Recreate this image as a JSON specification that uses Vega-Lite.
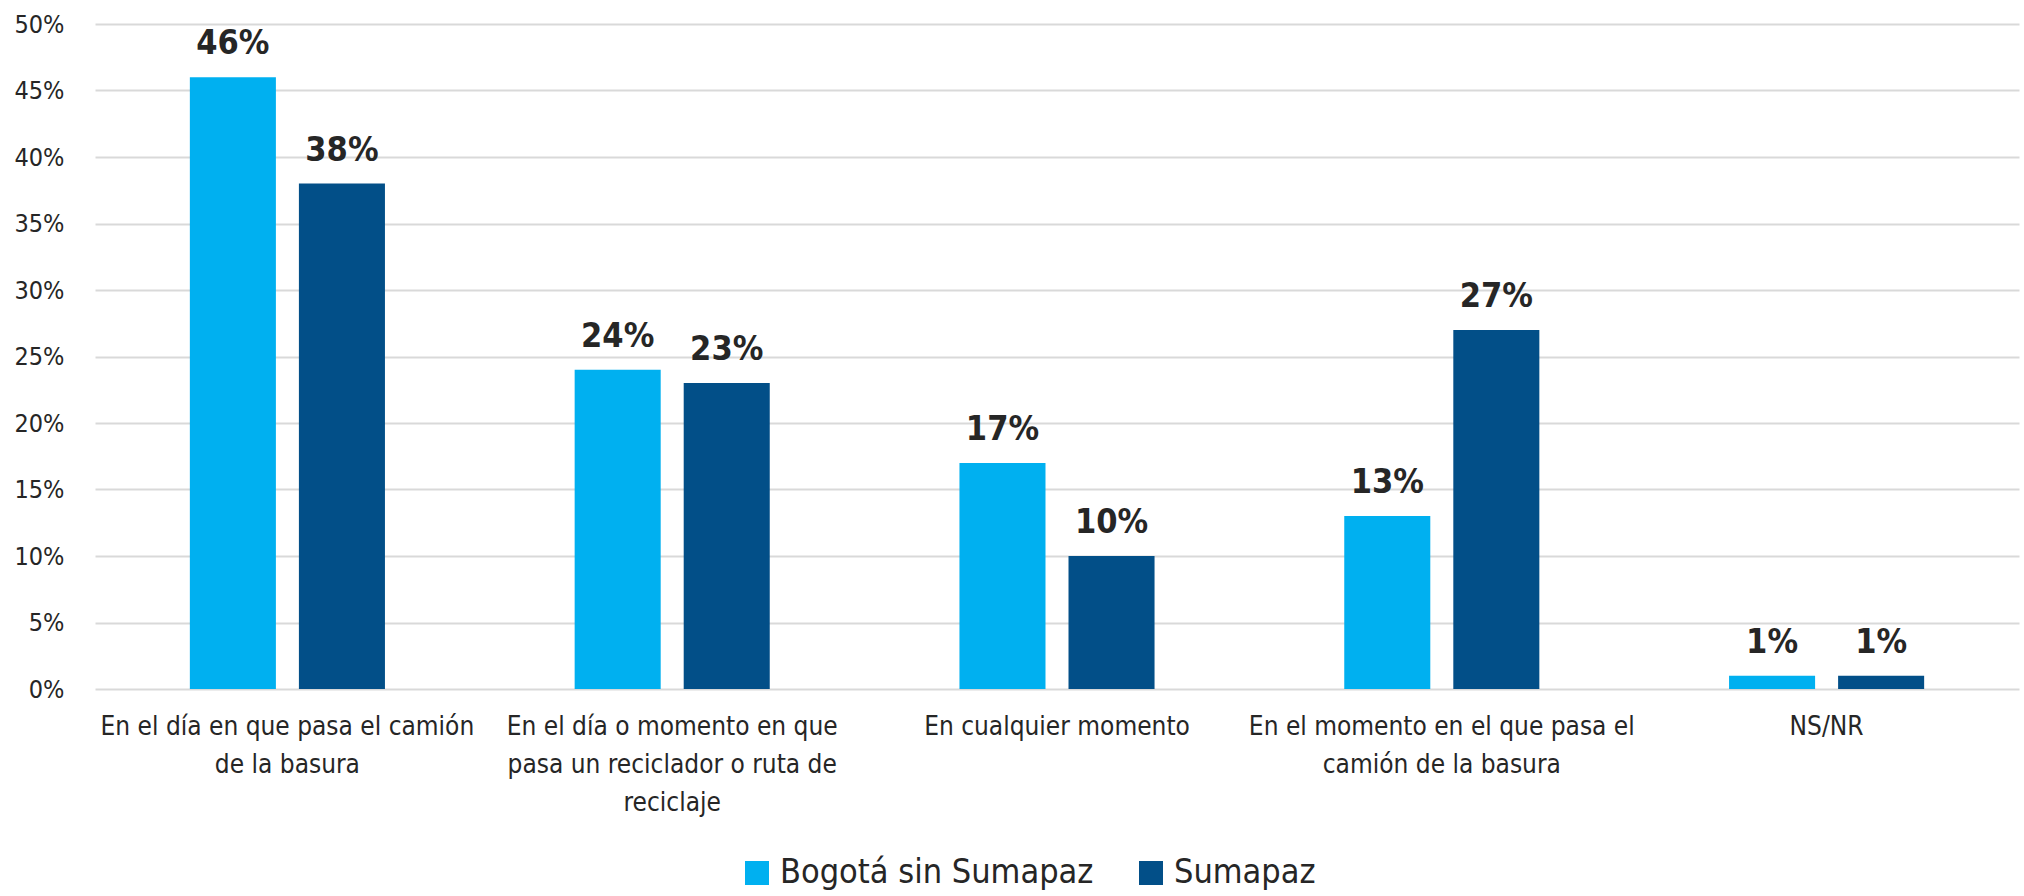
{
  "$schema": "https://vega.github.io/schema/vega-lite/v6.json",
  "width": 1924,
  "height": 665,
  "autosize": {"type": "none"},
  "padding": {"left": 95, "top": 24, "right": 5, "bottom": 207},
  "background": "#ffffff",
  "config": {
    "view": {"stroke": null},
    "font": "DejaVu Sans Condensed"
  },
  "data": {
    "values": [
      {"cat": "En el día en que pasa el camión|de la basura", "serie": "Bogotá sin Sumapaz", "v": 0.46},
      {"cat": "En el día en que pasa el camión|de la basura", "serie": "Sumapaz", "v": 0.38},
      {"cat": "En el día o momento en que|pasa un reciclador o ruta de|reciclaje", "serie": "Bogotá sin Sumapaz", "v": 0.24},
      {"cat": "En el día o momento en que|pasa un reciclador o ruta de|reciclaje", "serie": "Sumapaz", "v": 0.23},
      {"cat": "En cualquier momento", "serie": "Bogotá sin Sumapaz", "v": 0.17},
      {"cat": "En cualquier momento", "serie": "Sumapaz", "v": 0.10},
      {"cat": "En el momento en el que pasa el|camión de la basura", "serie": "Bogotá sin Sumapaz", "v": 0.13},
      {"cat": "En el momento en el que pasa el|camión de la basura", "serie": "Sumapaz", "v": 0.27},
      {"cat": "NS/NR", "serie": "Bogotá sin Sumapaz", "v": 0.01},
      {"cat": "NS/NR", "serie": "Sumapaz", "v": 0.01}
    ]
  },
  "encoding": {
    "x": {
      "field": "cat",
      "type": "nominal",
      "sort": null,
      "scale": {"paddingInner": 0.493, "paddingOuter": 0.2465},
      "axis": {
        "title": null,
        "labelAngle": 0,
        "domain": false,
        "ticks": false,
        "labelExpr": "split(datum.label, '|')",
        "labelFont": "DejaVu Sans Condensed",
        "labelFontSize": 26,
        "labelColor": "#262626",
        "labelLineHeight": 38,
        "labelPadding": 24,
        "labelLimit": 600,
        "labelBaseline": "top"
      }
    },
    "xOffset": {
      "field": "serie",
      "type": "nominal",
      "sort": ["Bogotá sin Sumapaz", "Sumapaz"],
      "scale": {"paddingInner": 0.211, "paddingOuter": 0}
    },
    "y": {
      "field": "v",
      "type": "quantitative",
      "scale": {"domain": [0, 0.5], "nice": false},
      "axis": {
        "title": null,
        "values": [0, 0.05, 0.1, 0.15, 0.2, 0.25, 0.3, 0.35, 0.4, 0.45, 0.5],
        "format": ".0%",
        "domain": false,
        "ticks": false,
        "grid": true,
        "gridColor": "#D9D9D9",
        "gridWidth": 2,
        "labelFont": "DejaVu Sans Condensed",
        "labelFontSize": 25,
        "labelColor": "#262626",
        "labelPadding": 31
      }
    }
  },
  "layer": [
    {
      "mark": {"type": "bar"},
      "encoding": {
        "color": {
          "field": "serie",
          "type": "nominal",
          "sort": ["Bogotá sin Sumapaz", "Sumapaz"],
          "scale": {"domain": ["Bogotá sin Sumapaz", "Sumapaz"], "range": ["#00B0F0", "#024F88"]},
          "legend": {
            "title": null,
            "orient": "none",
            "direction": "horizontal",
            "legendX": 645,
            "legendY": 832,
            "symbolType": "square",
            "symbolSize": 576,
            "symbolStrokeWidth": 0,
            "labelFont": "DejaVu Sans Condensed",
            "labelFontSize": 34,
            "labelFontWeight": 300,
            "labelColor": "#262626",
            "labelOffset": 6,
            "labelLimit": 600,
            "columnPadding": 40
          }
        }
      }
    },
    {
      "mark": {
        "type": "text",
        "baseline": "alphabetic",
        "dy": -23,
        "font": "DejaVu Sans Condensed",
        "fontWeight": "bold",
        "fontSize": 34,
        "color": "#262626"
      },
      "encoding": {
        "text": {"field": "v", "type": "quantitative", "format": ".0%"}
      }
    }
  ]
}
